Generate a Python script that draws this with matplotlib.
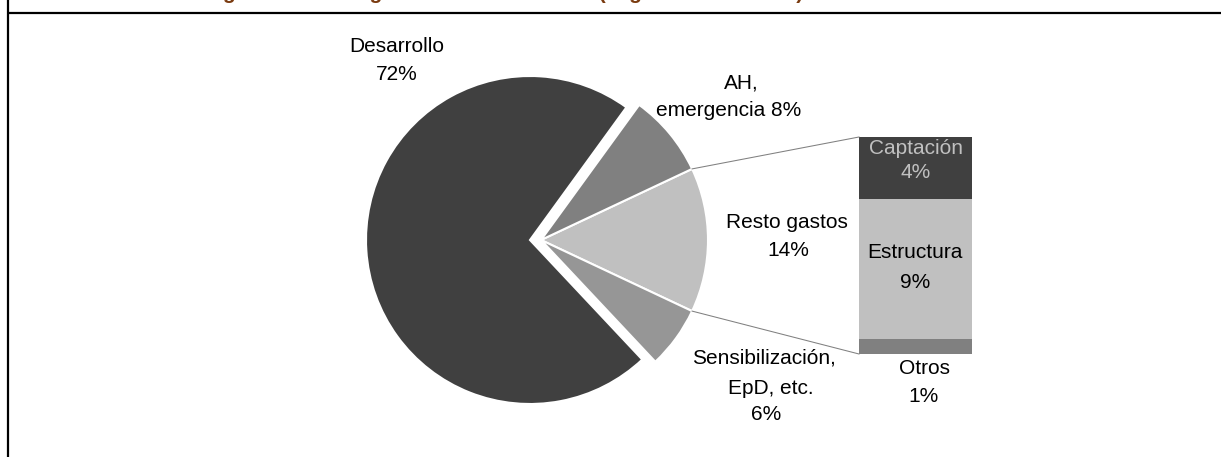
import matplotlib
matplotlib.use("Agg")
import matplotlib.pyplot as plt
import math

# ---- data ----
pie_labels = ["Resto gastos", "AH, emergencia", "Desarrollo", "Sensibilización, EpD, etc."]
pie_values = [14, 8, 72, 6]
pie_colors = ["#c0c0c0", "#808080", "#404040", "#969696"]

bar_labels = ["Otros", "Estructura", "Captación"]
bar_values = [1, 9, 4]
bar_colors = ["#808080", "#c0c0c0", "#404040"]

title_text = "Distribución general de los gastos totales en 2010 (según destino final)"

W, H = 1221, 457
plt.rcParams['font.family'] = ['Liberation Sans', 'DejaVu Sans']

fig = plt.figure(figsize=(W / 100, H / 100), dpi=100)

# bar of pie (drawn first, underneath)
bx0, bx1, btop, bbot = 859, 972, 137, 354


def Y(p):
    return H - p


bax = fig.add_axes([bx0 / W, Y(bbot) / H, (bx1 - bx0) / W, (bbot - btop) / H])
bottom = 0
for v, c in zip(bar_values, bar_colors):
    bax.bar(0, v, bottom=bottom, width=1.0, color=c, linewidth=0)
    bottom += v
bax.set_xlim(-0.5, 0.5)
bax.set_ylim(0, sum(bar_values))
bax.axis("off")
bax.set_zorder(1)

ax = fig.add_axes([0, 0, 1, 1])
ax.set_zorder(2)
ax.patch.set_alpha(0)

start = -pie_values[0] / sum(pie_values) * 360 / 2
wedges, _ = ax.pie(pie_values, colors=pie_colors, startangle=start, counterclock=True,
                   center=(530, Y(240)), radius=164,
                   wedgeprops=dict(edgecolor="white", linewidth=1.5))
for i, w in enumerate(wedges):
    if pie_labels[i] != "Desarrollo":
        w.set_center((541, Y(240)))
        w.set_radius(167)

ax.set_xlim(0, W)
ax.set_ylim(0, H)
ax.set_aspect("auto")
ax.axis("off")

# connectors
a = math.radians(start + 360 * pie_values[0] / sum(pie_values))
px = 541 + 167 * math.cos(a)
py = 167 * math.sin(a)
ax.plot([px, bx0], [Y(240) + py, Y(btop)], color="#808080", lw=0.75)
ax.plot([px, bx0], [Y(240) - py, Y(bbot)], color="#808080", lw=0.75)

fs = 15
txt = dict(fontsize=fs, ha="center", va="center", color="black")
ax.text(397, Y(47), "Desarrollo", **txt)
ax.text(397, Y(75), "72%", **txt)
ax.text(741, Y(83), "AH,", **txt)
ax.text(729, Y(111), "emergencia 8%", **txt)
ax.text(787, Y(222), "Resto gastos", **txt)
ax.text(788, Y(250), "14%", **txt)
ax.text(764, Y(358), "Sensibilización,", **txt)
ax.text(771, Y(388), "EpD, etc.", **txt)
ax.text(766, Y(415), "6%", **txt)
ax.text(916, Y(148), "Captación", fontsize=fs, ha="center", va="center", color="#c0c0c0")
ax.text(916, Y(173), "4%", fontsize=fs, ha="center", va="center", color="#c0c0c0")
ax.text(915, Y(253), "Estructura", **txt)
ax.text(915, Y(283), "9%", **txt)
ax.text(924, Y(368), "Otros", **txt)
ax.text(924, Y(396), "1%", **txt)

# frame lines
ax.plot([7.5, 7.5], [0, H], color="black", lw=1.6, solid_capstyle="butt")
ax.plot([7.5, W], [Y(12.5), Y(12.5)], color="black", lw=1.6, solid_capstyle="butt")

# cut-off title (only the descenders are visible, as in the reference)
ax.text(95, Y(-1), title_text, fontsize=15, fontweight="bold", color="#7a3b10",
        ha="left", va="baseline", clip_on=False)

fig.savefig("out.png", dpi=100)
